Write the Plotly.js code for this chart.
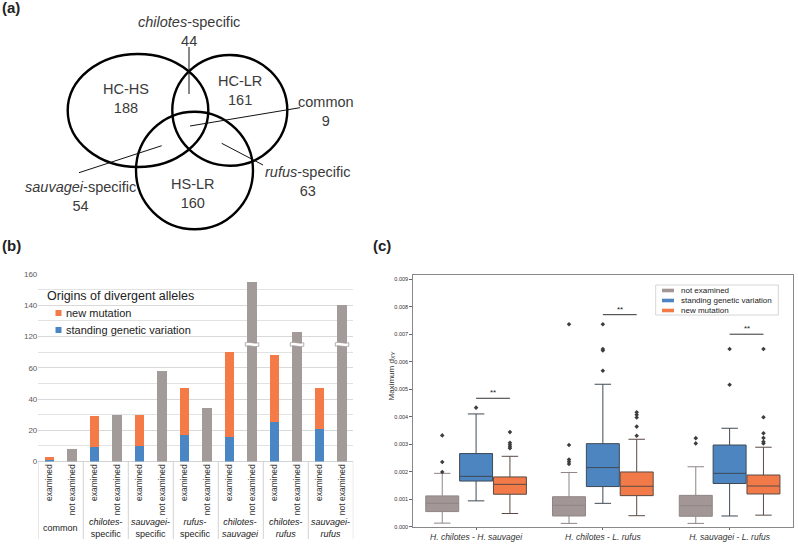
<!DOCTYPE html>
<html>
<head>
<meta charset="utf-8">
<script src="https://cdn.plot.ly/plotly-3.0.1.min.js"></script>
<style>
  html, body { margin: 0; padding: 0; background: #fff; }
</style>
</head>
<body>
<div id="myDiv" style="width:798px;height:548px"></div>
<script>
// Three panel figure: (a) venn counts, (b) origins of divergent alleles, (c) max dXY boxes

// ---- data ----

// (a) venn
const vennSets = ['HC-HS', 'HC-LR', 'HS-LR'];
const vennSetCounts = [188, 161, 160];
const vennParts = ['<i>chilotes</i>-specific', 'common', '<i>sauvagei</i>-specific', '<i>rufus</i>-specific'];
const vennPartCounts = [44, 9, 54, 63];

// (b) stacked bars
const groupLabels = ['common', '<i>chilotes</i>-<br>specific', '<i>sauvagei</i>-<br>specific',
    '<i>rufus</i>-<br>specific', '<i>chilotes</i>-<br><i>sauvagei</i>', '<i>chilotes</i>-<br><i>rufus</i>',
    '<i>sauvagei</i>-<br><i>rufus</i>'];
const subLabels = ['examined', 'not examined'];
const standingVariation = [1, 9, 10, 17, 16, 25, 21];
const newMutation = [2, 20, 20, 30, 54, 43, 26];
const notExamined = [8, 30, 58, 34, 155, 123, 140];
const yLabelsB = [0, 20, 40, 60, 120, 140, 160];

// (c) box stats, in units of 0.001 ; order: not examined, standing, new mutation
const pairLabels = ['<i>H. chilotes</i> - <i>H. sauvagei</i>', '<i>H. chilotes</i> - <i>L. rufus</i>',
    '<i>H. sauvagei</i> - <i>L. rufus</i>'];
const originNames = ['not examined', 'standing genetic variation', 'new mutation'];
const lowerFence = [[0.13, 0.12, 0.12], [0.94, 0.85, 0.39], [0.48, 0.40, 0.42]];
const quartile1 = [[0.55, 0.39, 0.38], [1.66, 1.46, 1.57], [1.18, 1.13, 1.19]];
const medians = [[0.85, 0.78, 0.76], [1.83, 2.15, 1.94], [1.54, 1.47, 1.48]];
const quartile3 = [[1.12, 1.09, 1.14], [2.66, 3.02, 2.97], [1.81, 1.99, 1.88]];
const upperFence = [[1.94, 1.97, 2.18], [4.10, 5.18, 3.58], [2.56, 3.18, 2.89]];
const outliers = [
    [[1.99, 2.35, 3.32], [2.28, 2.36, 2.44, 2.97, 7.36], [3.03, 3.22]],
    [[4.33], [5.67, 6.41, 6.46, 7.36], [5.16, 6.46]],
    [[2.85, 2.91, 2.98, 3.05, 3.44], [3.31, 3.64, 3.97, 4.07, 4.16], [3.03, 3.09, 3.23, 3.40, 3.98, 6.46]]
];
const sigHeights = [4.67, 7.71, 7.00];

// ---- helpers ----
const W = 798, H = 548;
const px = x => x / W;          // pixel -> paper x
const py = y => 1 - y / H;      // pixel (from top) -> paper y
const milli = v => v * 0.001;

const FONT = 'Liberation Sans, Arial, Helvetica, sans-serif';
const orange = '#F47B48';
const blue = '#4A86C4';
const grey = '#A39A9A';
const boxColors = ['#A39696', '#4C85C0', '#F27A48'];
const boxLines = ['#8f8585', '#3f4a56', '#5b4a44'];

// broken y axis in (b): values between 70 and 110 are cut out
const breakFrom = 70, breakTo = 110;
const toDisplay = v => v > breakTo ? v - (breakTo - breakFrom) : v;

let traces = [];
let shapes = [];
let annotations = [];

// ---- (a) venn ----
const circleBounds = [
    [67.7, 54, 208.3, 167],
    [172.3, 55, 287.3, 165.7],
    [136, 111.7, 253, 229.3]
];
circleBounds.forEach(b => {
    shapes.push({type: 'circle', xref: 'x3', yref: 'y3', x0: b[0], y0: b[1], x1: b[2], y1: b[3],
        line: {color: '#000', width: 2.4}});
});
const setPos = [[126, 98], [240, 90], [193, 193.5]];
vennSets.forEach((name, i) => {
    annotations.push({xref: 'x3', yref: 'y3', x: setPos[i][0], y: setPos[i][1], showarrow: false,
        text: name + '<br>' + vennSetCounts[i], font: {size: 14.5, color: '#3a3a3a'}});
});
const partPos = [[189, 31.5], [326, 111.5], [80, 196], [307, 181.7]];
vennParts.forEach((name, i) => {
    annotations.push({xref: 'x3', yref: 'y3', x: partPos[i][0], y: partPos[i][1], showarrow: false,
        text: name + '<br>' + vennPartCounts[i], font: {size: 14.5, color: '#3a3a3a'}});
});
// leader lines
const leaders = [[189, 47, 189, 94], [300, 107.7, 190, 126], [79, 172.7, 161.7, 145.7], [221.7, 143.3, 263, 165]];
leaders.forEach(l => {
    shapes.push({type: 'line', xref: 'x3', yref: 'y3', x0: l[0], y0: l[1], x1: l[2], y1: l[3],
        line: {color: '#111', width: 1}});
});

// ---- (b) bars ----
const exX = groupLabels.map((g, i) => 2 * i);
const neX = groupLabels.map((g, i) => 2 * i + 1);

traces.push({type: 'bar', x: exX, y: standingVariation, width: 0.42, marker: {color: blue},
    xaxis: 'x', yaxis: 'y', hoverinfo: 'skip'});
traces.push({type: 'bar', x: exX, y: newMutation, width: 0.42, marker: {color: orange},
    xaxis: 'x', yaxis: 'y', hoverinfo: 'skip'});
traces.push({type: 'bar', x: neX, y: notExamined.map(toDisplay), width: 0.42, marker: {color: grey},
    xaxis: 'x', yaxis: 'y', hoverinfo: 'skip'});

// break marks on the bars that cross the cut
notExamined.forEach((v, i) => {
    if (v <= breakTo) return;
    const x0 = neX[i] - 0.3, x1 = neX[i] + 0.3, w = x1 - x0;
    const ya = 76.0, yb = 73.8, a = 1.0;
    shapes.push({type: 'path', xref: 'x', yref: 'y',
        path: `M ${x0},${ya} C ${x0 + w / 3},${ya + a} ${x0 + 2 * w / 3},${ya - a} ${x1},${ya} ` +
              `L ${x1},${yb} C ${x1 - w / 3},${yb - a} ${x0 + w / 3},${yb + a} ${x0},${yb} Z`,
        fillcolor: '#fff', line: {color: '#9a9090', width: 0.7}});
});

// dividers between groups and group labels under the axis
for (let i = 0; i <= groupLabels.length; i++) {
    shapes.push({type: 'line', xref: 'x', yref: 'paper', x0: 2 * i - 0.5, x1: 2 * i - 0.5,
        y0: py(461.5), y1: py(539), line: {color: '#d2d2d2', width: 1}});
}
groupLabels.forEach((g, i) => {
    annotations.push({xref: 'x', yref: 'paper', x: 2 * i + 0.5, y: py(527.5), yanchor: 'middle',
        showarrow: false, text: g, font: {size: 9, color: '#222'}});
});

// broken axis ticks: labels every 20 display units, gridlines every 10
const labelDisplay = yLabelsB.map(toDisplay);

// legend of (b)
annotations.push({xref: 'paper', yref: 'paper', x: px(45), y: py(296), xanchor: 'left', yanchor: 'middle',
    showarrow: false, text: 'Origins of divergent alleles', font: {size: 12.5, color: '#222'}});
[[orange, 'new mutation', 313], [blue, 'standing genetic variation', 330]].forEach(item => {
    shapes.push({type: 'rect', xref: 'paper', yref: 'paper', x0: px(55.5), x1: px(61.5),
        y0: py(item[2] + 3), y1: py(item[2] - 3), fillcolor: item[0], line: {width: 0}});
    annotations.push({xref: 'paper', yref: 'paper', x: px(63.5), y: py(item[2]), xanchor: 'left',
        yanchor: 'middle', showarrow: false, text: item[1], font: {size: 11, color: '#222'}});
});

// ---- (c) boxes ----
const dodge = 0.267;
originNames.forEach((name, k) => {
    const pos = pairLabels.map((p, i) => i + (k - 1) * dodge);
    traces.push({
        type: 'box', xaxis: 'x2', yaxis: 'y2', name: name,
        x: pos,
        q1: quartile1[k].map(milli), median: medians[k].map(milli), q3: quartile3[k].map(milli),
        lowerfence: lowerFence[k].map(milli), upperfence: upperFence[k].map(milli),
        width: 0.26, whiskerwidth: 0.5, boxpoints: false,
        fillcolor: boxColors[k], line: {color: boxLines[k], width: 1},
        hoverinfo: 'skip'
    });
    let ox = [], oy = [];
    outliers[k].forEach((vals, i) => {
        vals.forEach(v => { ox.push(pos[i]); oy.push(milli(v)); });
    });
    traces.push({type: 'scatter', mode: 'markers', xaxis: 'x2', yaxis: 'y2', x: ox, y: oy,
        marker: {symbol: 'diamond', size: 3.5, color: '#3d3d3d'}, hoverinfo: 'skip'});
});

// significance brackets between standing and new mutation
sigHeights.forEach((h, i) => {
    shapes.push({type: 'line', xref: 'x2', yref: 'y2', x0: i, x1: i + dodge, y0: milli(h), y1: milli(h),
        line: {color: '#333', width: 1}});
    annotations.push({xref: 'x2', yref: 'y2', x: i + dodge / 2, y: milli(h), yanchor: 'bottom', yshift: -1,
        showarrow: false, text: '**', font: {size: 8, color: '#222'}});
});

// legend of (c)
shapes.push({type: 'rect', xref: 'paper', yref: 'paper', x0: px(655.7), x1: px(778.3), y0: py(315), y1: py(285),
    fillcolor: '#fff', line: {color: '#cccccc', width: 0.8}});
originNames.forEach((name, k) => {
    const yy = 290.5 + k * 10;
    shapes.push({type: 'rect', xref: 'paper', yref: 'paper', x0: px(662), x1: px(674),
        y0: py(yy + 1.8), y1: py(yy - 1.8), fillcolor: boxColors[k], line: {width: 0}});
    annotations.push({xref: 'paper', yref: 'paper', x: px(678.5), y: py(yy), xanchor: 'left', yanchor: 'middle',
        showarrow: false, text: name, font: {size: 8, color: '#222'}});
});

// y title of (c)
annotations.push({xref: 'paper', yref: 'paper', x: px(391.5), y: py(403), textangle: -90, showarrow: false,
    text: 'Maximum d<sub><i>XY</i></sub>', font: {size: 8, color: '#333'}});

// panel letters
[['(a)', 0, 7], ['(b)', 0, 245], ['(c)', 371, 245]].forEach(p => {
    annotations.push({xref: 'paper', yref: 'paper', x: px(p[1]), y: py(p[2]), xanchor: 'left', yanchor: 'middle',
        showarrow: false, text: '<b>' + p[0] + '</b>', font: {size: 15, color: '#222'}});
});

// ---- layout ----
let layout = {
    width: W,
    height: H,
    margin: {l: 0, r: 0, t: 0, b: 0},
    paper_bgcolor: '#fff',
    plot_bgcolor: 'rgba(0,0,0,0)',
    font: {family: FONT, color: '#222'},
    showlegend: false,
    barmode: 'stack',
    boxmode: 'overlay',
    // (b)
    xaxis: {
        domain: [px(38.3), px(353.3)],
        range: [-0.5, 13.5],
        tickvals: exX.concat(neX),
        ticktext: exX.map(() => subLabels[0]).concat(neX.map(() => subLabels[1])),
        tickangle: -90,
        tickfont: {size: 8.5, color: '#333'},
        ticks: '',
        showgrid: false,
        zeroline: false,
        showline: false,
        fixedrange: true
    },
    yaxis: {
        domain: [py(461.5), py(274)],
        range: [0, 120],
        tickvals: labelDisplay,
        ticktext: yLabelsB.map(String),
        tickfont: {size: 8, color: '#5a5a5a'},
        showgrid: true,
        gridcolor: '#d9d9d9',
        gridwidth: 1,
        minor: {tickmode: 'linear', tick0: 10, dtick: 20, showgrid: true, gridcolor: '#e2e2e2', gridwidth: 1, ticks: ''},
        zeroline: true,
        zerolinecolor: '#d2d2d2',
        zerolinewidth: 1,
        showline: false,
        ticks: '',
        fixedrange: true
    },
    // (c)
    xaxis2: {
        domain: [px(412.7), px(793)],
        range: [-0.5, 2.5],
        tickvals: [0, 1, 2],
        ticktext: pairLabels,
        tickfont: {size: 8.5, color: '#333'},
        ticks: 'outside',
        ticklen: 2.5,
        tickcolor: '#666',
        showgrid: false,
        zeroline: false,
        showline: true,
        mirror: true,
        linecolor: '#888',
        linewidth: 1,
        anchor: 'y2',
        fixedrange: true
    },
    yaxis2: {
        domain: [py(526.7), py(275)],
        range: [0, 0.009153],
        tickvals: [0, 0.001, 0.002, 0.003, 0.004, 0.005, 0.006, 0.007, 0.008, 0.009],
        tickformat: '.3f',
        tickfont: {size: 5.5, color: '#333'},
        ticks: 'outside',
        ticklen: 2.5,
        tickcolor: '#666',
        showgrid: false,
        zeroline: false,
        showline: true,
        mirror: true,
        linecolor: '#888',
        linewidth: 1,
        anchor: 'x2',
        fixedrange: true
    },
    // (a) venn canvas, 1 unit = 1 pixel
    xaxis3: {domain: [0, px(399)], range: [0, 399], visible: false, anchor: 'y3', fixedrange: true},
    yaxis3: {domain: [py(240), 1], range: [240, 0], visible: false, anchor: 'x3', fixedrange: true},
    shapes: shapes,
    annotations: annotations
};

Plotly.newPlot('myDiv', traces, layout, {displayModeBar: false, staticPlot: true});
</script>
</body>
</html>
